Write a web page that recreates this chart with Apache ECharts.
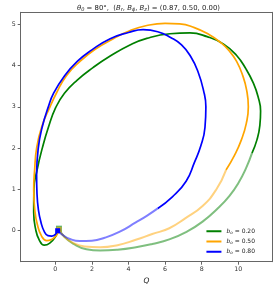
<!DOCTYPE html>
<html>
<head>
<meta charset="utf-8">
<script src="https://cdn.jsdelivr.net/npm/echarts@6/dist/echarts.min.js"></script>
<style>html,body{margin:0;padding:0;background:#fff}#c{width:276px;height:286px}</style>
</head>
<body>
<div id="c"></div>
<script>
const qTicks = [0, 2, 4, 6, 8, 10];
const uTicks = [0, 1, 2, 3, 4, 5];
const b0Values = ['0.20', '0.50', '0.80'];
const colors = ['#008000', '#FFA500', '#0000FF'];

// b0 = 0.20 (green)
const greenSolid = [[0.2,0.05],[0.0,-0.15],[-0.3,-0.3],[-0.6,-0.35],[-0.88,-0.22],[-1.08,0.05],[-1.18,0.45],[-1.17,1.0],[-0.98,1.5],[-0.71,2.0],[-0.38,2.5],[0.02,2.98],[0.5,3.33],[1.2,3.65],[2.06,3.95],[3.0,4.23],[4.08,4.5],[5.0,4.66],[6.27,4.77],[7.36,4.79],[8.3,4.7],[9.2,4.52],[9.9,4.25],[10.42,3.92],[10.82,3.58],[11.08,3.25],[11.22,2.9],[11.18,2.55],[11.02,2.2],[10.75,1.88]];
const greenFaded = [[0.2,0.05],[0.5,-0.15],[1.0,-0.32],[1.7,-0.45],[2.45,-0.48],[3.4,-0.46],[4.41,-0.4],[5.3,-0.32],[6.23,-0.21],[7.2,-0.02],[8.05,0.22],[8.9,0.55],[9.51,0.84],[10.0,1.15],[10.42,1.51],[10.75,1.88]];
// b0 = 0.50 (orange)
const orangeSolid = [[0.22,0.02],[0.05,-0.12],[-0.2,-0.21],[-0.47,-0.24],[-0.75,-0.13],[-0.98,0.15],[-1.12,0.5],[-1.18,1.0],[-1.13,1.47],[-1.02,2.0],[-0.74,2.52],[-0.29,3.0],[0.06,3.33],[0.6,3.75],[1.35,4.1],[2.2,4.4],[3.17,4.65],[4.1,4.85],[5.0,4.97],[6.0,5.02],[6.8,5.01],[7.6,4.92],[8.4,4.75],[9.0,4.57],[9.5,4.36],[9.91,4.1],[10.25,3.75],[10.46,3.4],[10.55,3.0],[10.44,2.6],[10.17,2.2],[9.8,1.83],[9.33,1.47]];
const orangeFaded = [[0.22,0.02],[0.5,-0.15],[1.0,-0.3],[1.6,-0.38],[2.45,-0.4],[3.4,-0.35],[4.4,-0.22],[5.3,-0.08],[6.23,0.06],[7.1,0.3],[8.05,0.6],[8.8,1.0],[9.33,1.47]];
// b0 = 0.80 (blue)
const blueSolid = [[0.13,0.0],[0.0,-0.09],[-0.2,-0.13],[-0.4,-0.12],[-0.6,-0.02],[-0.78,0.2],[-0.92,0.5],[-1.0,0.9],[-1.02,1.35],[-0.93,2.0],[-0.71,2.52],[-0.38,3.0],[-0.09,3.33],[0.5,3.75],[1.2,4.1],[2.0,4.38],[3.0,4.65],[4.0,4.8],[4.8,4.87],[5.6,4.82],[6.3,4.68],[6.9,4.5],[7.4,4.22],[7.8,3.85],[8.1,3.4],[8.23,3.0],[8.18,2.5],[7.95,2.05],[7.6,1.65],[7.15,1.2],[6.4,0.82],[5.6,0.54]];
const blueFaded = [[0.13,0.0],[0.4,-0.1],[0.8,-0.2],[1.35,-0.25],[2.0,-0.24],[2.7,-0.17],[3.5,-0.03],[4.4,0.2],[5.0,0.36],[5.6,0.54]];
const startPoints = [[0.2,0.05],[0.2,0.03],[0.13,0.0]];

const solids = [greenSolid, orangeSolid, blueSolid];
const fadeds = [greenFaded, orangeFaded, blueFaded];

const series = [];
for (let i = 0; i < 3; i++) {
  series.push({
    type: 'line', name: '_f' + i, data: fadeds[i], smooth: 0.5, smoothConstraint: false, symbol: 'none',
    lineStyle: { color: colors[i], width: 2, opacity: 0.5 }, silent: true, z: 2 + i
  });
  series.push({
    type: 'line', name: b0Values[i], data: solids[i], smooth: 0.5, smoothConstraint: false, symbol: 'none',
    itemStyle: { color: colors[i] },
    lineStyle: { color: colors[i], width: 1.7 }, z: 2 + i
  });
}
for (let i = 0; i < 3; i++) {
  series.push({
    type: 'scatter', data: [startPoints[i]], symbol: 'rect', symbolSize: i === 0 ? 6 : 5,
    itemStyle: { color: colors[i], opacity: i === 2 ? 1 : 0.6 }, z: 10 + i
  });
}

const font = 'DejaVu Sans';
const frameLine = { show: true, onZero: false, lineStyle: { color: '#666', width: 1 } };
const chart = echarts.init(document.getElementById('c'), null, { renderer: 'canvas' });
chart.setOption({
  animation: false,
  backgroundColor: '#fff',
  title: {
    text: '{i|θ}{s|0} = 80°,  ({i|B}{s|r}, {i|B}{s|ϕ}, {i|B}{s|z}) = (0.87, 0.50, 0.00)',
    left: 72, top: -1,
    textStyle: {
      fontFamily: font, fontSize: 6.9, color: '#222', fontWeight: 'normal',
      rich: {
        i: { fontFamily: font, fontSize: 6.9, fontStyle: 'italic', color: '#222' },
        s: { fontFamily: font, fontSize: 5, fontStyle: 'italic', color: '#222', padding: [3, 0, 0, 0] }
      }
    }
  },
  grid: { left: 20.7, right: 3.7, top: 12.3, bottom: 24.3, containLabel: false, outerBoundsMode: 'none' },
  xAxis: [{
    type: 'value', min: -1.89, max: 11.86,
    name: 'Q', nameLocation: 'middle', nameGap: 13,
    nameTextStyle: { fontFamily: font, fontSize: 7.5, fontStyle: 'italic', color: '#222' },
    axisLine: frameLine,
    axisTick: { show: true, length: 3, customValues: qTicks, lineStyle: { color: '#666' } },
    axisLabel: { customValues: qTicks, fontFamily: font, fontSize: 6.3, color: '#333', margin: 4.5 },
    splitLine: { show: false }
  }, {
    type: 'value', min: -1.89, max: 11.86, position: 'top',
    axisLine: frameLine, axisTick: { show: false }, axisLabel: { show: false }, splitLine: { show: false }
  }],
  yAxis: [{
    type: 'value', min: -0.75, max: 5.29,
    name: 'U', nameLocation: 'middle', nameGap: 16.5,
    nameTextStyle: { fontFamily: font, fontSize: 7.5, fontStyle: 'italic', color: '#222' },
    axisLine: frameLine,
    axisTick: { show: true, length: 3, customValues: uTicks, lineStyle: { color: '#666' } },
    axisLabel: { customValues: uTicks, fontFamily: font, fontSize: 6.3, color: '#333', margin: 5 },
    splitLine: { show: false }
  }, {
    type: 'value', min: -0.75, max: 5.29, position: 'right',
    axisLine: frameLine, axisTick: { show: false }, axisLabel: { show: false }, splitLine: { show: false }
  }],
  legend: {
    data: b0Values.map((v, i) => ({ name: v, itemStyle: { color: colors[i] } })),
    orient: 'vertical', right: 16, bottom: 26,
    itemWidth: 15, itemHeight: 2, itemGap: 4, icon: 'rect',
    formatter: v => '{i|b}{s|o} = ' + v,
    textStyle: {
      fontFamily: font, fontSize: 6, color: '#222',
      rich: {
        i: { fontFamily: font, fontSize: 6, fontStyle: 'italic', color: '#222' },
        s: { fontFamily: font, fontSize: 4.2, fontStyle: 'italic', color: '#222', padding: [2.5, 0, 0, 0] }
      }
    }
  },
  series: series
});
</script>
</body>
</html>
